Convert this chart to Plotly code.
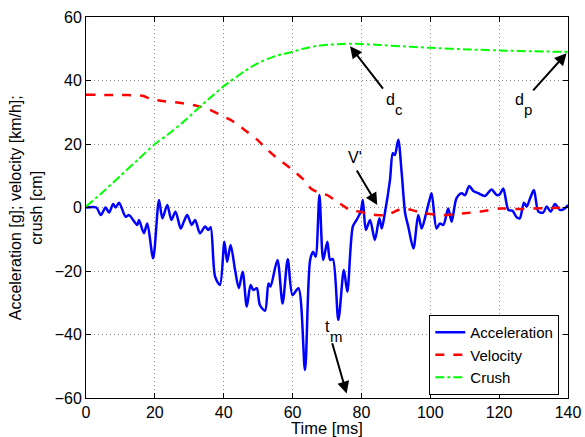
import plotly.graph_objects as go

# Acceleration [g]
acc_t = [0, 3, 4.3, 5.7, 6.7, 7.9, 8.6, 9.6, 11.5, 12.5, 14.9, 15.4, 16.8, 17.8, 19.5, 21.2, 22.2, 23.6, 24.8, 26,
         27.5, 28.4, 29.4, 30.7, 31.7, 33.1, 34.6, 35.5, 36.2, 37.5, 38.9, 40.2, 41, 42, 43.3, 44.4, 45.5, 46.7, 47.8,
         48.6, 49.6, 50.5, 52, 53, 53.6, 55.6, 57.1, 58.6, 60, 61.7, 63.6, 65.1, 66, 66.7, 67.8, 68.9, 70.1, 70.9,
         71.7, 73.3, 74.9, 75.9, 77.5, 78.6, 79.8, 80.4, 81.3, 82.5, 83.9, 85.2, 85.9, 86.8, 88.3, 89.1, 89.7, 90.7,
         91.7, 92.7, 93.6, 95.1, 96.5, 97.5, 98.8, 99.9, 100.4, 101.8, 102.8, 103.8, 105.2, 106.2, 107.6, 109.1,
         110.1, 111.3, 112.5, 113.9, 115.9, 117.8, 119.3, 120.2, 121.2, 122.7, 123.9, 125.1, 126, 127.2, 128, 129,
         130.1, 131.4, 132.8, 133.8, 135, 136.2, 137.7, 139.1, 140]
acc_v = [0, 0, -2.4, 0, -1.6, 1.1, 0, 1.5, -2.9, -2.4, -5.5, -3.9, -8.1, -5, -16, 2.4, -3.4, 0.8, -3.9, -1.3,
         -6.6, -4.5, -2.4, -5.5, -3.9, -8.1, -6, -7.1, -6.2, -21.8, -24.4, -10.8, -17.1, -11.8, -19.7, -25.4, -20.2,
         -31.2, -24.4, -26, -25.4, -30.7, -32.5, -23.9, -24.9, -16.5, -30.2, -16.3, -27.6, -25.4, -51.2, -16.5,
         -13.9, -15.5, 3.9, -16.5, -10.8, -16.5, -16.2, -35.4, -19.7, -26.5, -6, -3.9, -1.3, 2.4, -7.1, -3.9,
         -10.2, -3.4, -6.6, -1.8, 8.7, 17.1, 16.5, 21.3, 10.8, -1.8, -6, -12.9, -2.4, -6.6, -1.8, 2.9, 4.5, -6.6,
         -5, -5.5, -0.3, -4.5, 2.9, 4.5, 3.9, 6.8, 5.2, 4.5, 3.6, 5.7, 3.9, 4.2, 6, -0.8, -1, -3.1, -3.4, 1.5,
         0.3, 2.9, 5.5, -1.3, -1.6, 0.3, -1.3, 1.1, -0.8, -0.3, 0.8]

# Velocity [km/h]
vel_t = [0, 12, 16.4, 18.8, 21.7, 27, 32.3, 36, 39.1, 42, 46, 49.8, 51.7, 55, 59.5, 63.3, 65.3, 68, 70.1, 72,
         74.4, 76.7, 79.6, 82, 84.4, 87.3, 90.7, 92.2, 95, 98, 101, 104.8, 110, 114.4, 120.2, 126, 133, 140]
vel_v = [35.5, 35.4, 35.2, 34.2, 33.6, 33, 32, 30.8, 29.1, 27.6, 24.5, 21.3, 19.2, 16, 12.3, 8.7, 6, 4.5, 3.9,
         2.5, 0.8, -0.8, -1.3, -2, -2.4, -2.4, -0.8, -0.3, -0.9, -1.8, -2.2, -2.4, -1.8, -1.3, -0.3, -0.5, -0.2, 0]

# Crush [cm]
cr_t = [0, 5, 10, 15, 19.7, 25, 29.4, 33.3, 36, 40.1, 45.9, 50, 55, 59.5, 63, 67.2, 71, 74.9, 76.5, 80, 85,
        94.7, 100, 111, 121.9, 130, 140]
cr_v = [0.3, 5, 10, 15, 19.7, 24, 28, 32, 34.5, 38.3, 42.8, 45.5, 47.7, 48.9, 50, 50.9, 51.3, 51.5, 51.6, 51.5,
        51.2, 50.6, 50.3, 49.8, 49.4, 49.2, 49]

x_ticks = [0, 20, 40, 60, 80, 100, 120, 140]
y_ticks = [-60, -40, -20, 0, 20, 40, 60]

FONT = "Liberation Sans, Arial, sans-serif"

fig = go.Figure()
fig.add_trace(go.Scatter(x=acc_t, y=acc_v, mode="lines", name="Acceleration",
                         line=dict(color="#0000ff", width=2.5, shape="spline", smoothing=0.8)))
fig.add_trace(go.Scatter(x=vel_t, y=vel_v, mode="lines", name="Velocity",
                         line=dict(color="#ff0000", width=2.5, dash="dash", shape="spline", smoothing=0.6)))
fig.add_trace(go.Scatter(x=cr_t, y=cr_v, mode="lines", name="Crush",
                         line=dict(color="#00ff00", width=2, dash="dashdot", shape="spline", smoothing=0.6)))

axis_common = dict(showline=True, linecolor="black", linewidth=1, mirror="allticks", ticks="inside",
                   ticklen=5, tickcolor="black", showgrid=True, gridcolor="#8c8c8c", griddash="1px,3px",
                   gridwidth=1, zeroline=False, automargin=False,
                   tickfont=dict(family=FONT, size=16, color="black"))

fig.update_layout(
    width=585, height=437,
    margin=dict(l=86, r=17, t=17, b=39),
    paper_bgcolor="white", plot_bgcolor="white",
    font=dict(family=FONT, size=16, color="black"),
    xaxis=dict(range=[0, 140], tickvals=x_ticks, **axis_common,
               title=dict(text="Time [ms]", standoff=0, font=dict(family=FONT, size=16.5))),
    yaxis=dict(range=[-60, 60], tickvals=y_ticks, **axis_common),
    legend=dict(x=0.982, y=0.008, xanchor="right", yanchor="bottom", bgcolor="white",
                bordercolor="black", borderwidth=1, font=dict(family=FONT, size=15),
                tracegroupgap=0),
    showlegend=True,
)

# y title as rotated annotation
fig.add_annotation(text="Acceleration [g]; velocity [km/h];<br>crush [cm]", xref="paper", yref="paper",
                   x=-0.125, y=0.5, xanchor="center", yanchor="middle", textangle=-90, showarrow=False,
                   font=dict(family=FONT, size=16, color="black"))

# arrows (head -> x,y ; tail -> ax, ay)
arrows = [
    (76.7, 50.8, 86.6, 37.0),
    (139.6, 48.6, 129.5, 36.4),
    (84.6, 0.8, 78.4, 12.1),
    (75.7, -58.6, 71.4, -42.3),
]
for hx, hy, tx, ty in arrows:
    fig.add_annotation(x=hx, y=hy, ax=tx, ay=ty, xref="x", yref="y", axref="x", ayref="y", text="",
                       showarrow=True, arrowhead=2, arrowsize=1.2, arrowwidth=2, arrowcolor="black",
                       standoff=0, startstandoff=0)

# labels: (x, y, main letter, subscript)
labels = [
    (88.3, 33.9, "d", "c"),
    (125.9, 33.9, "d", "p"),
    (78.1, 15.6, "V'", ""),
    (70.0, -37.4, "t", "m"),
]
for lx, ly, main, sub in labels:
    fig.add_annotation(x=lx, y=ly, xref="x", yref="y", text=main, showarrow=False,
                       font=dict(family=FONT, size=16, color="black"))
    if sub:
        fig.add_annotation(x=lx, y=ly, xref="x", yref="y", text=sub, showarrow=False,
                           xshift=9, yshift=-10, font=dict(family=FONT, size=15, color="black"))

fig.write_html("out.html")
